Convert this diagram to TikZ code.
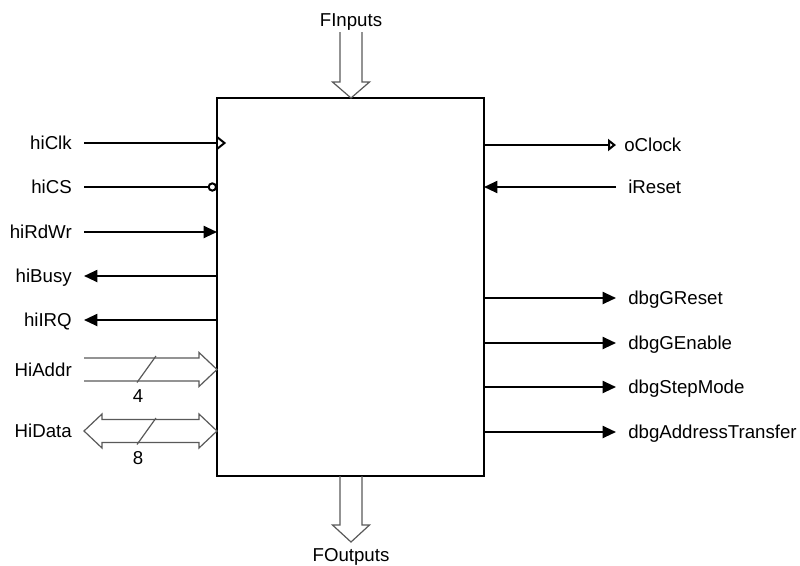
\documentclass[tikz,border=0pt]{standalone}
\usepackage{fontspec}
\setmainfont{Liberation Sans}
\usetikzlibrary{arrows.meta,calc}
\begin{document}
\begin{tikzpicture}[x=0.75pt,y=-0.75pt,
  font=\fontsize{14pt}{16pt}\selectfont,
  lbl/.style={inner xsep=9pt, inner ysep=0pt, text height=10pt, text depth=0pt},
  sig/.style={line width=1.5pt, line join=miter},
  fin/.style={-{Triangle[length=10pt,width=9pt]}},
  bus/.style={draw=black!65, line width=0.9pt, line join=miter},
  num/.style={inner sep=0pt}]
\useasboundingbox (0,0) rectangle (800,565);

% block
\node[draw, sig, minimum width=200.25pt, minimum height=283.5pt, inner sep=0pt, outer sep=0pt] (blk) at (350.5,287) {};

% left labels
\node[lbl, anchor=east] (hiClk) at (84,143) {hiClk};
\node[lbl, anchor=east] (hiCS) at (84,187) {hiCS};
\node[lbl, anchor=east] (hiRdWr) at (84,232) {hiRdWr};
\node[lbl, anchor=east] (hiBusy) at (84,276) {hiBusy};
\node[lbl, anchor=east] (hiIRQ) at (84,320) {hiIRQ};
\node[lbl, anchor=east] (HiAddr) at (84,369.5) {HiAddr};
\node[lbl, anchor=east] (HiData) at (84,431) {HiData};

% left connectors
\coordinate (ck) at (blk.west |- hiClk.east);
\draw[sig] (hiClk.east) -- (ck);
\draw[sig] ($(ck)+(0,-6)$) -- ($(ck)+(7.5,0)$) -- ($(ck)+(0,6)$);
\draw[sig, -{Circle[open,length=7pt]}] (hiCS.east) -- (blk.west |- hiCS.east);
\draw[sig, fin] (hiRdWr.east) -- (blk.west |- hiRdWr.east);
\draw[sig, fin] (blk.west |- hiBusy.east) -- (hiBusy.east);
\draw[sig, fin] (blk.west |- hiIRQ.east) -- (hiIRQ.east);

% HiAddr bus
\coordinate (aL) at (HiAddr.east);
\coordinate (aR) at (blk.west |- HiAddr.east);
\draw[bus] ($(aL)+(0,-11.5)$) -- ($(aR)+(-18,-11.5)$) -- ++(0,-5.5) -- (aR) -- ++(-18,17) -- ++(0,-5.5) -- ($(aL)+(0,11.5)$);
\draw[bus] (137,382.5) -- (156,356);
\node[num] (n4) at (138,396) {4};

% HiData bus
\coordinate (dL) at (HiData.east);
\coordinate (dR) at (blk.west |- HiData.east);
\draw[bus] (dL) -- ++(18,-17) -- ++(0,5.5) -- ($(dR)+(-18,-11.5)$) -- ++(0,-5.5) -- (dR) -- ++(-18,17) -- ++(0,-5.5) -- ($(dL)+(18,11.5)$) -- ++(0,5.5) -- cycle;
\draw[bus] (137,444.5) -- (156,418);
\node[num] (n8) at (138,458) {8};

% right labels
\node[lbl, anchor=west, inner xsep=6pt] (oClock) at (616,145) {oClock};
\node[lbl, anchor=west] (iReset) at (616,187) {iReset};
\node[lbl, anchor=west] (dbgGReset) at (616,298) {dbgGReset};
\node[lbl, anchor=west] (dbgGEnable) at (616,343) {dbgGEnable};
\node[lbl, anchor=west] (dbgStepMode) at (616,387) {dbgStepMode};
\node[lbl, anchor=west] (dbgAddressTransfer) at (616,432) {dbgAddressTransfer};

% right connectors
\draw[sig, -{Triangle[open,length=6pt,width=9pt]}] (blk.east |- oClock.west) -- (oClock.west);
\draw[sig, fin] (iReset.west) -- (blk.east |- iReset.west);
\draw[sig, fin] (blk.east |- dbgGReset.west) -- (dbgGReset.west);
\draw[sig, fin] (blk.east |- dbgGEnable.west) -- (dbgGEnable.west);
\draw[sig, fin] (blk.east |- dbgStepMode.west) -- (dbgStepMode.west);
\draw[sig, fin] (blk.east |- dbgAddressTransfer.west) -- (dbgAddressTransfer.west);

% top bus
\node[lbl, inner xsep=0pt] (FInputs) at (351,19.5) {FInputs};
\coordinate (tTip) at (blk.north -| FInputs.south);
\draw[bus] ($(tTip)+(-11,-66)$) -- ($(tTip)+(-11,-16)$) -- ++(-7.5,0) -- (tTip) -- ++(18.5,-16) -- ++(-7.5,0) -- ($(tTip)+(11,-66)$);

% bottom bus
\node[lbl, inner xsep=0pt] (FOutputs) at (351,555) {FOutputs};
\coordinate (bTop) at (blk.south -| FOutputs.north);
\draw[bus] ($(bTop)+(-11,0)$) -- ($(bTop)+(-11,49)$) -- ++(-7.5,0) -- ($(bTop)+(0,66)$) -- ++(18.5,-17) -- ++(-7.5,0) -- ($(bTop)+(11,0)$);
\end{tikzpicture}
\end{document}
